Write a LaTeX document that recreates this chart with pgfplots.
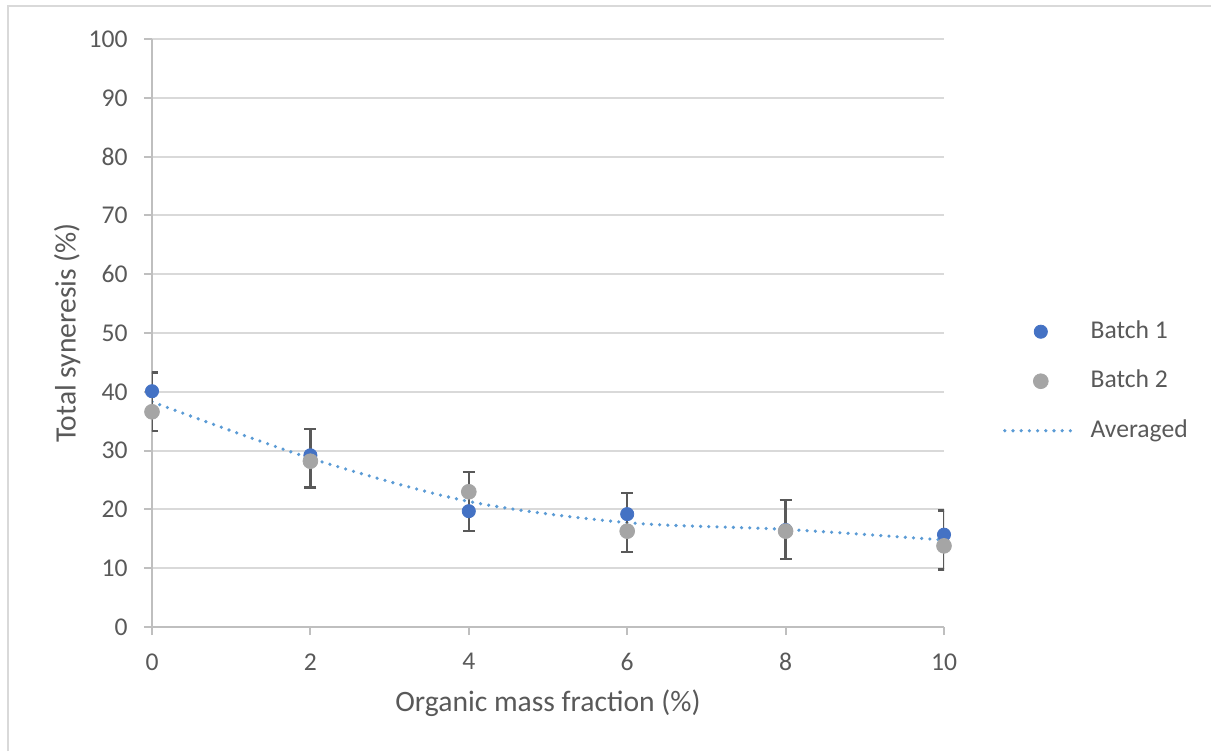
\documentclass[border=0pt]{standalone}
\usepackage{fontspec}
\setmainfont{Carlito}
\usepackage{pgfplots}
\pgfplotsset{compat=1.18}
\definecolor{txt}{HTML}{595959}
\definecolor{axisgray}{HTML}{BFBFBF}
\definecolor{gridgray}{HTML}{D9D9D9}
\definecolor{framegray}{HTML}{D9D9D9}
\definecolor{bone}{HTML}{4472C4}
\definecolor{btwo}{HTML}{A5A5A5}
\definecolor{avgblue}{HTML}{5B9BD5}
\definecolor{errgray}{HTML}{595959}
\begin{document}
\begin{tikzpicture}
\useasboundingbox (0,0) rectangle (605.5pt,375.5pt);
\draw[color=framegray, line width=1pt] (4pt,0) -- (4pt,372.5pt) -- (605.5pt,372.5pt);
\begin{axis}[
  at={(76pt,62pt)}, anchor=south west,
  scale only axis, width=396pt, height=294pt,
  xmin=0, xmax=10, ymin=0, ymax=100,
  xtick={0,2,...,10}, ytick={0,10,...,100},
  axis lines=left,
  axis line style={-, draw=axisgray, line width=1pt},
  tick align=outside, major tick length=4pt,
  tick style={draw=axisgray, line width=1pt},
  ymajorgrids, grid style={draw=gridgray, line width=1pt},
  font=\fontsize{12.8}{15}\selectfont,
  /pgf/number format/assume math mode=true,
  ticklabel style={text=txt, font=\fontsize{12.8}{15}\selectfont},
  yticklabel style={anchor=east, inner sep=0pt, xshift=-8pt},
  xticklabel style={anchor=north, inner sep=0pt, yshift=-9pt},
  xlabel={Organic mass fraction (\%)},
  ylabel={Total syneresis (\%)},
  label style={text=txt, font=\fontsize{14.8}{17}\selectfont},
  xlabel style={at={(axis description cs:0.5,-0.129)}, anchor=center},
  ylabel style={at={(axis description cs:-0.107,0.5)}, anchor=center},
  legend image code/.code={\draw[mark repeat=2,mark phase=2,#1] plot coordinates {(0pt,0pt) (18pt,0pt) (36pt,0pt)};},
  legend style={draw=none, fill=none, at={(axis description cs:1.0745,0.418)}, anchor=west,
    inner sep=0pt, outer sep=0pt, row sep=13.25pt,
    nodes={inner sep=0pt, text=txt, text height=9pt, text depth=2.5pt, anchor=west},
    /tikz/every odd column/.append style={column sep=6pt}},
  legend cell align=left,
]
\addplot[forget plot, draw=avgblue, line width=1.8pt, line cap=round, dash pattern=on 0pt off 4.1pt,
  smooth, tension=0.5, mark=none,
  error bars/.cd, y dir=both, y fixed=5,
  error bar style={solid, draw=errgray, line width=1.2pt, line cap=butt},
  error mark options={solid, rotate=90, draw=errgray, line width=1.2pt, mark size=3pt}]
  coordinates {(0,38.3) (2,28.7) (4,21.35) (6,17.75) (8,16.6) (10,14.8)};
\addplot[only marks, mark=*, mark size=3.3pt, draw=bone, fill=bone]
  coordinates {(0,40.1) (2,29.2) (4,19.7) (6,19.2) (8,16.5) (10,15.7)};
\addlegendentry{Batch 1}
\addplot[only marks, mark=*, mark size=3.7pt, draw=btwo, fill=btwo]
  coordinates {(0,36.6) (2,28.2) (4,23.0) (6,16.3) (8,16.3) (10,13.8)};
\addlegendentry{Batch 2}
\addlegendimage{draw=avgblue, line width=1.8pt, line cap=round, dash pattern=on 0pt off 4.1pt}
\addlegendentry{Averaged}
\end{axis}
\end{tikzpicture}
\end{document}
